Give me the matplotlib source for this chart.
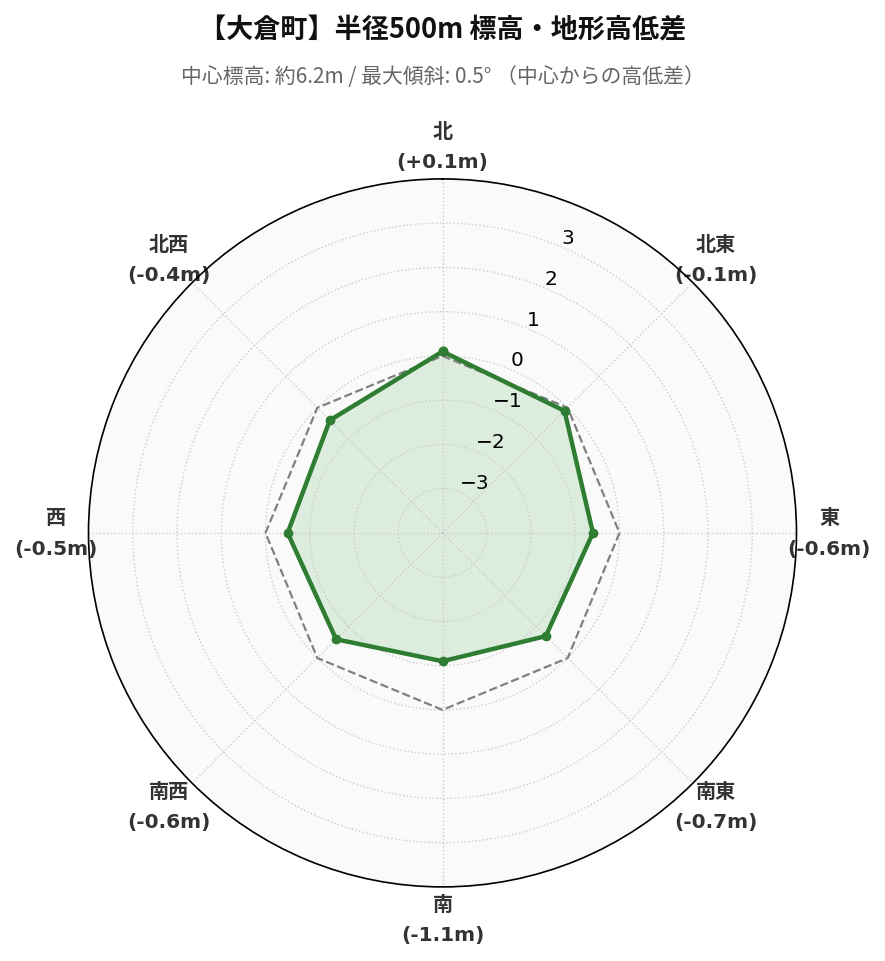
import numpy as np
import matplotlib
matplotlib.use('Agg')
import matplotlib.pyplot as plt

plt.rcParams['font.family'] = ['DejaVu Sans', 'Noto Sans CJK JP']

directions = ['北', '北東', '東', '南東', '南', '南西', '西', '北西']
diffs = [0.1, -0.1, -0.6, -0.7, -1.1, -0.6, -0.5, -0.4]
reference = [0, 0, 0, 0, 0, 0, 0, 0]
r_ticks = [-3, -2, -1, 0, 1, 2, 3]

title = '【大倉町】半径500m 標高・地形高低差'
subtitle = '中心標高: 約6.2m / 最大傾斜: 0.5° （中心からの高低差）'

angles = np.linspace(0, 2 * np.pi, len(directions), endpoint=False)
closed = np.append(angles, angles[0])
vals = np.append(diffs, diffs[0])
ref = np.append(reference, reference[0])

fig = plt.figure(figsize=(8.85, 9.62), dpi=100)
ax = fig.add_axes([0.1, 0.076, 0.8, 0.738], projection='polar')
ax.set_theta_zero_location('N')
ax.set_theta_direction(-1)
ax.set_facecolor('#fafafa')

ax.plot(closed, ref, color='gray', linestyle='--', linewidth=1.6)
ax.fill(closed, vals, color='#4caf50', alpha=0.17)
ax.plot(closed, vals, color='#2e7d32', linewidth=3.2, marker='o', markersize=6)

ax.set_ylim(-4, 4)
ax.set_yticks(r_ticks)
ax.set_rlabel_position(22.5)
ax.tick_params(axis='y', labelsize=14.5, colors='black')

labels = [f'{d}\n({v:+.1f}m)' for d, v in zip(directions, diffs)]
ax.set_xticks(angles)
ax.set_xticklabels(labels, fontsize=14.5, fontweight='bold', color='#333333',
                   family=['DejaVu Sans', 'Noto Sans CJK JP'], linespacing=1.75)
ax.tick_params(axis='x', pad=13)

ax.grid(True, color='#cccccc', linestyle=':', linewidth=1)
ax.spines['polar'].set_color('black')
ax.spines['polar'].set_linewidth(1.2)

fig.text(0.5, 0.968, title, ha='center', va='center', fontsize=19.5, fontweight='bold',
         family=['Noto Sans CJK JP', 'DejaVu Sans'], color='#111111')
fig.text(0.5, 0.92, subtitle, ha='center', va='center', fontsize=15,
         family=['Noto Sans CJK JP', 'DejaVu Sans'], color='#666666')

fig.savefig('out.png', dpi=100)
